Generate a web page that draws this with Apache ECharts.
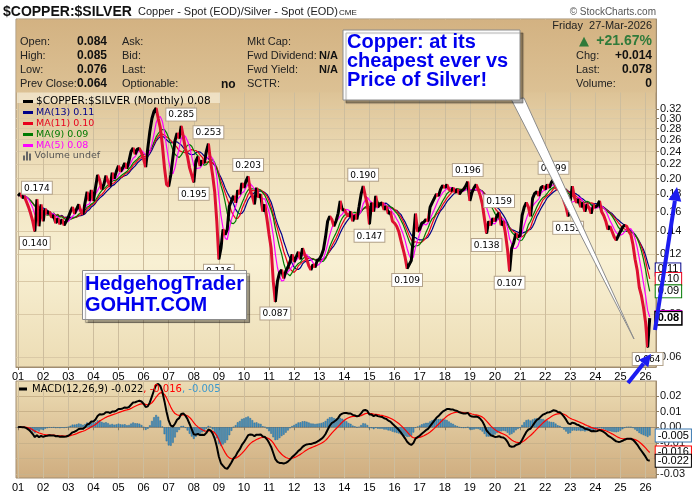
<!DOCTYPE html>
<html>
<head>
<meta charset="utf-8">
<script src="https://cdn.jsdelivr.net/npm/echarts@6/dist/echarts.min.js"></script>
<style>
html, body { margin: 0; padding: 0; background: #fff; }
#main { width: 700px; height: 494px; }
</style>
</head>
<body>
<div id="main"></div>
<script>
// monthly $COPPER:$SILVER closes, Jan 2001 .. Mar 2026
var y2001 = [0.178, 0.181, 0.176, 0.177, 0.171, 0.165, 0.158, 0.150, 0.140, 0.174, 0.145, 0.168];
var y2002 = [0.150, 0.163, 0.158, 0.160, 0.154, 0.156, 0.148, 0.153, 0.147, 0.152, 0.146, 0.150];
var y2003 = [0.154, 0.160, 0.165, 0.158, 0.163, 0.168, 0.160, 0.157, 0.170, 0.183, 0.172, 0.185];
var y2004 = [0.172, 0.188, 0.205, 0.198, 0.186, 0.192, 0.204, 0.196, 0.190, 0.208, 0.200, 0.210];
var y2005 = [0.218, 0.210, 0.215, 0.222, 0.214, 0.225, 0.240, 0.246, 0.236, 0.244, 0.245, 0.238];
var y2006 = [0.228, 0.216, 0.245, 0.275, 0.300, 0.315, 0.322, 0.300, 0.282, 0.250, 0.215, 0.192];
var y2007 = [0.190, 0.205, 0.230, 0.258, 0.272, 0.262, 0.285, 0.265, 0.245, 0.232, 0.215, 0.205];
var y2008 = [0.195, 0.225, 0.232, 0.218, 0.226, 0.222, 0.240, 0.253, 0.225, 0.205, 0.183, 0.150];
var y2009 = [0.116, 0.125, 0.142, 0.137, 0.142, 0.166, 0.172, 0.178, 0.170, 0.185, 0.180, 0.194];
var y2010 = [0.188, 0.197, 0.203, 0.185, 0.178, 0.168, 0.188, 0.176, 0.180, 0.160, 0.168, 0.152];
var y2011 = [0.137, 0.125, 0.100, 0.087, 0.100, 0.106, 0.108, 0.102, 0.107, 0.110, 0.114, 0.120];
var y2012 = [0.114, 0.118, 0.122, 0.116, 0.125, 0.120, 0.116, 0.111, 0.108, 0.112, 0.110, 0.115];
var y2013 = [0.116, 0.119, 0.124, 0.135, 0.150, 0.155, 0.152, 0.145, 0.150, 0.158, 0.172, 0.162];
var y2014 = [0.162, 0.158, 0.155, 0.160, 0.150, 0.156, 0.152, 0.165, 0.180, 0.190, 0.178, 0.168];
var y2015 = [0.147, 0.170, 0.160, 0.178, 0.165, 0.168, 0.170, 0.162, 0.166, 0.158, 0.160, 0.150];
var y2016 = [0.148, 0.145, 0.140, 0.132, 0.125, 0.118, 0.109, 0.112, 0.115, 0.135, 0.158, 0.140];
var y2017 = [0.142, 0.148, 0.149, 0.152, 0.150, 0.165, 0.170, 0.175, 0.180, 0.178, 0.186, 0.191];
var y2018 = [0.188, 0.192, 0.186, 0.184, 0.188, 0.182, 0.186, 0.180, 0.184, 0.186, 0.190, 0.196];
var y2019 = [0.172, 0.182, 0.188, 0.192, 0.186, 0.178, 0.168, 0.152, 0.138, 0.150, 0.146, 0.153];
var y2020 = [0.150, 0.156, 0.159, 0.146, 0.150, 0.138, 0.124, 0.107, 0.125, 0.130, 0.138, 0.135];
var y2021 = [0.136, 0.156, 0.165, 0.170, 0.165, 0.155, 0.175, 0.181, 0.183, 0.178, 0.188, 0.190];
var y2022 = [0.186, 0.192, 0.188, 0.195, 0.199, 0.190, 0.185, 0.192, 0.180, 0.172, 0.165, 0.155];
var y2023 = [0.172, 0.190, 0.176, 0.170, 0.174, 0.165, 0.170, 0.160, 0.168, 0.164, 0.158, 0.166];
var y2024 = [0.165, 0.167, 0.172, 0.160, 0.156, 0.150, 0.142, 0.145, 0.140, 0.135, 0.132, 0.136];
var y2025 = [0.140, 0.144, 0.146, 0.145, 0.140, 0.137, 0.128, 0.116, 0.108, 0.096, 0.091, 0.084];
var y2026 = [0.076, 0.064, 0.078];

// months (from Jan 2001) that carry a value label
var peakMonths = [9, 78, 91, 110, 165, 215, 230, 256];
var troughMonths = [8, 84, 96, 123, 168, 186, 224, 235, 263, 301];

var priceTicks = [0.06, 0.08, 0.10, 0.12, 0.14, 0.16, 0.18, 0.20, 0.22, 0.24, 0.26, 0.28, 0.30, 0.32];
var macdTicks = [0.02, 0.01, 0, -0.01, -0.02, -0.03];

var ratio = [].concat(y2001, y2002, y2003, y2004, y2005, y2006, y2007, y2008, y2009,
    y2010, y2011, y2012, y2013, y2014, y2015, y2016, y2017, y2018, y2019,
    y2020, y2021, y2022, y2023, y2024, y2025, y2026);

// one empty month before, three after, like the StockCharts margins
var months = [];
for (var k = -1; k < ratio.length + 3; k++) {
    var yy = 2001 + Math.floor(k / 12);
    var mm = ((k % 12) + 12) % 12 + 1;
    months.push(yy + '-' + (mm < 10 ? '0' : '') + mm);
}
function pad(arr) { return [null].concat(arr, [null, null, null]); }

function sma(src, n) {
    return src.map(function (v, i) {
        var s = 0, c = 0;
        for (var j = Math.max(0, i - n + 1); j <= i; j++) { s += src[j]; c++; }
        return s / c;
    });
}
function ema(src, n) {
    var k = 2 / (n + 1), prev = src[0];
    return src.map(function (v, i) {
        prev = i === 0 ? v : v * k + prev * (1 - k);
        return prev;
    });
}
function last(a) { return a[a.length - 1]; }

var ma13 = sma(ratio, 13), ma11 = sma(ratio, 11), ma9 = sma(ratio, 9), ma5 = sma(ratio, 5);
var ema12 = ema(ratio, 12), ema26 = ema(ratio, 26);
var macd = ema12.map(function (v, i) { return v - ema26[i]; });
var signal = ema(macd, 9);
var hist = macd.map(function (v, i) { return v - signal[i]; });

var NAVY = '#000088', RED = '#e8001c', GREEN = '#007a00', MAGENTA = '#ff00ff';
var UP = '#000000', DOWN = '#dd1030';

var priceName = '$COPPER:$SILVER (Monthly) ' + last(ratio).toFixed(2);
var n13 = 'MA(13) ' + last(ma13).toFixed(2);
var n11 = 'MA(11) ' + last(ma11).toFixed(2);
var n9 = 'MA(9) ' + last(ma9).toFixed(2);
var n5 = 'MA(5) ' + last(ma5).toFixed(2);

var peakLabel = {
    show: true, formatter: function (p) { return p.value.toFixed(3); },
    color: '#000', fontSize: 9, fontFamily: 'DejaVu Sans',
    backgroundColor: '#fff', borderColor: '#b3a28a', borderWidth: 1, padding: [2, 2, 1, 2], distance: 5
};
var priceData = pad(ratio).map(function (v, i) {
    var m = i - 1;
    if (peakMonths.indexOf(m) >= 0) {
        return { value: v, symbol: 'circle', symbolSize: 1, label: Object.assign({ position: 'top' }, peakLabel) };
    }
    if (troughMonths.indexOf(m) >= 0) {
        return { value: v, symbol: 'circle', symbolSize: 1, label: Object.assign({ position: 'bottom' }, peakLabel) };
    }
    return v;
});

// black when the month closed up, red when it closed down
var pieces = [];
for (var i = 1; i < ratio.length; i++) {
    pieces.push({ gte: i, lt: i + 1, color: ratio[i] >= ratio[i - 1] ? UP : DOWN });
}

function tag(color, digits, bold) {
    return {
        show: true,
        formatter: function (p) { return p.value.toFixed(digits); },
        color: '#000', fontSize: 11, fontFamily: 'Liberation Sans',
        fontWeight: bold ? 'bold' : 'normal',
        backgroundColor: '#fff', borderColor: color, borderWidth: bold ? 1.5 : 1,
        padding: [1, 2, 0, 2], distance: 6
    };
}

var isJan = function (index, value) { return value.slice(5) === '01'; };
function xAxisFor(gridIndex) {
    return {
        type: 'category', gridIndex: gridIndex, data: months, boundaryGap: false,
        axisLine: { show: true, lineStyle: { color: '#a08c70' } },
        axisTick: { show: true, interval: isJan, length: 3, lineStyle: { color: '#8a7a60' } },
        axisLabel: {
            interval: isJan, formatter: function (v) { return v.slice(2, 4); },
            color: '#000', fontSize: 11, fontFamily: 'Liberation Sans', margin: 4
        },
        splitLine: { show: true, interval: isJan, lineStyle: { color: '#cdbd9d', width: 1 } }
    };
}

var mainBg = {
    type: 'linear', x: 0, y: 0, x2: 0, y2: 1,
    colorStops: [
        { offset: 0, color: '#d9be90' }, { offset: 0.21, color: '#ddc396' },
        { offset: 0.45, color: '#f0e2bf' }, { offset: 0.7, color: '#f8f0d3' },
        { offset: 1, color: '#ecdcb4' }
    ]
};
var macdBg = {
    type: 'linear', x: 0, y: 0, x2: 0, y2: 1,
    colorStops: [{ offset: 0, color: '#ecdcb4' }, { offset: 1, color: '#cfad7f' }]
};

function txt(x, y, s, font, fill, align) {
    return {
        type: 'text', x: x, y: y, z: 12, silent: true,
        style: { text: s, font: font, fill: fill || '#222', align: align || 'left', verticalAlign: 'middle' }
    };
}
var F = '11px "Liberation Sans"', FB = 'bold 12px "Liberation Sans"';

function arrow(x1, y1, x2, y2, head, half) {
    var dx = x2 - x1, dy = y2 - y1, len = Math.sqrt(dx * dx + dy * dy);
    var ux = dx / len, uy = dy / len;
    var bx = x2 - ux * head, by = y2 - uy * head;
    return [
        { type: 'line', z: 20, silent: true, shape: { x1: x1, y1: y1, x2: bx, y2: by },
          style: { stroke: '#1c1cf0', lineWidth: 4 } },
        { type: 'polygon', z: 20, silent: true,
          shape: { points: [[x2, y2], [bx + uy * half, by - ux * half], [bx - uy * half, by + ux * half]] },
          style: { fill: '#1c1cf0' } }
    ];
}

var boxStyle = { fill: '#fff', stroke: '#8c8c8c', lineWidth: 1,
    shadowColor: 'rgba(0,0,0,0.35)', shadowOffsetX: 3, shadowOffsetY: 3, shadowBlur: 1 };
var BLUE_FONT = 'bold 20px "Liberation Sans"';

var graphics = [
    txt(3, 12, '$COPPER:$SILVER', 'bold 14px "Liberation Sans"', '#111'),
    txt(138, 12, 'Copper - Spot (EOD)/Silver - Spot (EOD)', F, '#222'),
    txt(339, 13, 'CME', '8px "Liberation Sans"', '#222'),
    txt(656, 12, '\u00a9 StockCharts.com', '10px "Liberation Sans"', '#555', 'right'),
    { type: 'rect', z: 10, silent: true, shape: { x: 16.5, y: 19.5, width: 639, height: 73 },
      style: { fill: { type: 'linear', x: 0, y: 0, x2: 0, y2: 1,
          colorStops: [{ offset: 0, color: '#d3b282' }, { offset: 1, color: '#dcc194' }] } } },
    txt(20, 42, 'Open:', F), txt(77, 42, '0.084', FB, '#111'), txt(122, 42, 'Ask:', F),
    txt(20, 56, 'High:', F), txt(77, 56, '0.085', FB, '#111'), txt(122, 56, 'Bid:', F),
    txt(20, 70, 'Low:', F), txt(77, 70, '0.076', FB, '#111'), txt(122, 70, 'Last:', F),
    txt(20, 84, 'Prev Close:', F), txt(77, 84, '0.064', FB, '#111'), txt(122, 84, 'Optionable:', F),
    txt(221, 85, 'no', FB, '#111'),
    txt(247, 42, 'Mkt Cap:', F),
    txt(247, 56, 'Fwd Dividend:', F), txt(319, 56, 'N/A', 'bold 11px "Liberation Sans"', '#111'),
    txt(247, 70, 'Fwd Yield:', F), txt(319, 70, 'N/A', 'bold 11px "Liberation Sans"', '#111'),
    txt(247, 84, 'SCTR:', F),
    txt(652, 26, 'Friday  27-Mar-2026', F, '#222', 'right'),
    txt(579, 42, '\u25b2', '13px "DejaVu Sans"', '#2f7a3a'),
    txt(652, 41, '+21.67%', 'bold 14px "Liberation Sans"', '#2f7a3a', 'right'),
    txt(576, 56, 'Chg:', F), txt(652, 56, '+0.014', FB, '#111', 'right'),
    txt(576, 70, 'Last:', F), txt(652, 70, '0.078', FB, '#111', 'right'),
    txt(576, 84, 'Volume:', F), txt(652, 84, '0', FB, '#111', 'right'),
    { type: 'rect', z: 1, silent: true, shape: { x: 17, y: 92, width: 203, height: 11 },
      style: { fill: 'rgba(250,243,225,0.6)' } },
    // MACD legend
    { type: 'rect', z: 12, silent: true, shape: { x: 19, y: 387.5, width: 8, height: 3 }, style: { fill: '#000' } },
    { type: 'text', x: 32, y: 389, z: 12, silent: true,
      style: {
          text: '{k|MACD(12,26,9) ' + last(macd).toFixed(3) + '}{r|, ' + last(signal).toFixed(3) + '}{b|, ' + last(hist).toFixed(3) + '}',
          font: '10px "DejaVu Sans"', verticalAlign: 'middle',
          rich: { k: { fill: '#000' }, r: { fill: '#ff0000' }, b: { fill: '#3c98cc' } }
      } },
    // callout
    { type: 'polygon', z: 15, silent: true, shape: { points: [[511, 99], [524, 98], [634, 339]] },
      style: { fill: '#fff', stroke: '#8c8c8c', lineWidth: 1 } },
    { type: 'rect', z: 16, silent: true, shape: { x: 343, y: 30, width: 177, height: 70 }, style: boxStyle },
    { type: 'text', z: 17, x: 347, y: 52, silent: true, style: { text: 'Copper: at its', font: BLUE_FONT, fill: '#0000ee', verticalAlign: 'bottom' } },
    { type: 'text', z: 17, x: 347, y: 71, silent: true, style: { text: 'cheapest ever vs', font: BLUE_FONT, fill: '#0000ee', verticalAlign: 'bottom' } },
    { type: 'text', z: 17, x: 347, y: 90, silent: true, style: { text: 'Price of Silver!', font: BLUE_FONT, fill: '#0000ee', verticalAlign: 'bottom' } },
    { type: 'rect', z: 16, silent: true, shape: { x: 82.5, y: 270.5, width: 164, height: 49 }, style: boxStyle },
    { type: 'text', z: 17, x: 85, y: 294, silent: true, style: { text: 'HedgehogTrader', font: BLUE_FONT, fill: '#0000ee', verticalAlign: 'bottom' } },
    { type: 'text', z: 17, x: 85, y: 315, silent: true, style: { text: 'GOHHT.COM', font: BLUE_FONT, fill: '#0000ee', verticalAlign: 'bottom' } }
].concat(arrow(655, 330, 677, 187, 14, 6.5), arrow(628, 383, 651, 354, 12, 6));

var chart = echarts.init(document.getElementById('main'));
var option = {
    animation: false,
    backgroundColor: '#fff',
    grid: [
        { left: 16, top: 19, width: 640, height: 348, show: true, borderColor: '#a08c70', borderWidth: 1,
          backgroundColor: mainBg, containLabel: false, outerBoundsMode: 'none' },
        { left: 16, top: 381, width: 640, height: 97, show: true, borderColor: '#a08c70', borderWidth: 1,
          backgroundColor: macdBg, containLabel: false, outerBoundsMode: 'none' }
    ],
    xAxis: [xAxisFor(0), xAxisFor(1)],
    yAxis: [
        {
            type: 'log', gridIndex: 0, position: 'right', min: 0.0561, max: 0.587,
            axisLine: { show: true, lineStyle: { color: '#a08c70' } },
            axisTick: { show: true, customValues: priceTicks, length: 3, lineStyle: { color: '#8a7a60' } },
            // a blank stop under the header keeps 0.32 from being treated as the (overlapping) max label
            axisLabel: { customValues: priceTicks.concat([0.55]), showMaxLabel: false, hideOverlap: false,
                formatter: function (v) { return v > 0.4 ? '' : Number(v).toFixed(2); },
                color: '#111', fontSize: 11, fontFamily: 'Liberation Sans', margin: 4 },
            splitLine: { show: true, lineStyle: { color: '#dac9a6' } }
        },
        {
            type: 'value', gridIndex: 1, position: 'right', min: -0.0326, max: 0.0297,
            axisLine: { show: true, lineStyle: { color: '#a08c70' } },
            axisTick: { show: true, customValues: macdTicks, length: 3, lineStyle: { color: '#8a7a60' } },
            axisLabel: { customValues: macdTicks, formatter: function (v) { return Number(v).toFixed(2); },
                hideOverlap: false, color: '#111', fontSize: 11, fontFamily: 'Liberation Sans', margin: 4 },
            splitLine: { show: true, lineStyle: { color: '#c9b28a' } }
        }
    ],
    visualMap: { show: false, type: 'piecewise', seriesIndex: 0, dimension: 0, pieces: pieces, outOfRange: { color: UP } },
    legend: [
        {
            left: 18, top: 91, orient: 'vertical', itemGap: 0, itemWidth: 10, itemHeight: 3, icon: 'rect',
            selectedMode: false,
            textStyle: { fontFamily: 'DejaVu Sans', fontSize: 9.5, lineHeight: 11, padding: [0, 0, 0, -2] },
            data: [
                { name: priceName, itemStyle: { color: '#000' }, textStyle: { color: '#000', fontSize: 10.5 } },
                { name: n13, itemStyle: { color: NAVY }, textStyle: { color: NAVY } },
                { name: n11, itemStyle: { color: RED }, textStyle: { color: RED } },
                { name: n9, itemStyle: { color: GREEN }, textStyle: { color: GREEN } },
                { name: n5, itemStyle: { color: MAGENTA }, textStyle: { color: MAGENTA } }
            ]
        },
        {
            left: 18, top: 146, orient: 'vertical', itemWidth: 9, itemHeight: 9, selectedMode: false,
            icon: 'path://M0,10V5h2v5zM3,10V1h2v9zM6,10V3h2v7z',
            textStyle: { fontFamily: 'DejaVu Sans', fontSize: 9.5, color: '#555', padding: [0, 0, 0, -2] },
            data: [{ name: 'Volume undef', itemStyle: { color: '#666' } }]
        }
    ],
    series: [
        {
            name: priceName, type: 'line', xAxisIndex: 0, yAxisIndex: 0, z: 4,
            data: priceData, symbol: 'none', showAllSymbol: true,
            lineStyle: { width: 3 }, itemStyle: { color: '#000' },
            endLabel: tag('#000', 2, true)
        },
        { name: n13, type: 'line', xAxisIndex: 0, yAxisIndex: 0, z: 3, data: pad(ma13), symbol: 'none',
          lineStyle: { width: 1.2, color: NAVY }, itemStyle: { color: NAVY }, endLabel: tag(NAVY, 2) },
        { name: n11, type: 'line', xAxisIndex: 0, yAxisIndex: 0, z: 3, data: pad(ma11), symbol: 'none',
          lineStyle: { width: 1.2, color: RED }, itemStyle: { color: RED }, endLabel: tag(RED, 2) },
        { name: n9, type: 'line', xAxisIndex: 0, yAxisIndex: 0, z: 3, data: pad(ma9), symbol: 'none',
          lineStyle: { width: 1.2, color: GREEN }, itemStyle: { color: GREEN }, endLabel: tag(GREEN, 2) },
        { name: n5, type: 'line', xAxisIndex: 0, yAxisIndex: 0, z: 3, data: pad(ma5), symbol: 'none',
          lineStyle: { width: 1.2, color: MAGENTA }, itemStyle: { color: MAGENTA }, endLabel: tag(MAGENTA, 2) },
        { name: 'Volume undef', type: 'bar', xAxisIndex: 0, yAxisIndex: 0, data: [], itemStyle: { color: '#666' } },
        // MACD panel
        { name: 'hist', type: 'bar', xAxisIndex: 1, yAxisIndex: 1, data: pad(hist), barCategoryGap: '15%',
          itemStyle: { color: '#4394c6', borderColor: '#2a6b96', borderWidth: 0.5 } },
        { name: 'histTag', type: 'line', xAxisIndex: 1, yAxisIndex: 1, data: pad(hist), symbol: 'none',
          lineStyle: { width: 0, opacity: 0 }, endLabel: tag('#3a78b0', 3) },
        { name: 'signal', type: 'line', xAxisIndex: 1, yAxisIndex: 1, data: pad(signal), symbol: 'none',
          lineStyle: { width: 1.2, color: '#ff0000' }, itemStyle: { color: '#ff0000' }, endLabel: tag('#ff0000', 3) },
        { name: 'macd', type: 'line', xAxisIndex: 1, yAxisIndex: 1, data: pad(macd), symbol: 'none',
          lineStyle: { width: 2, color: '#000' }, itemStyle: { color: '#000' }, endLabel: tag('#000', 3) }
    ],
    graphic: graphics
};
chart.setOption(option);
</script>
</body>
</html>
